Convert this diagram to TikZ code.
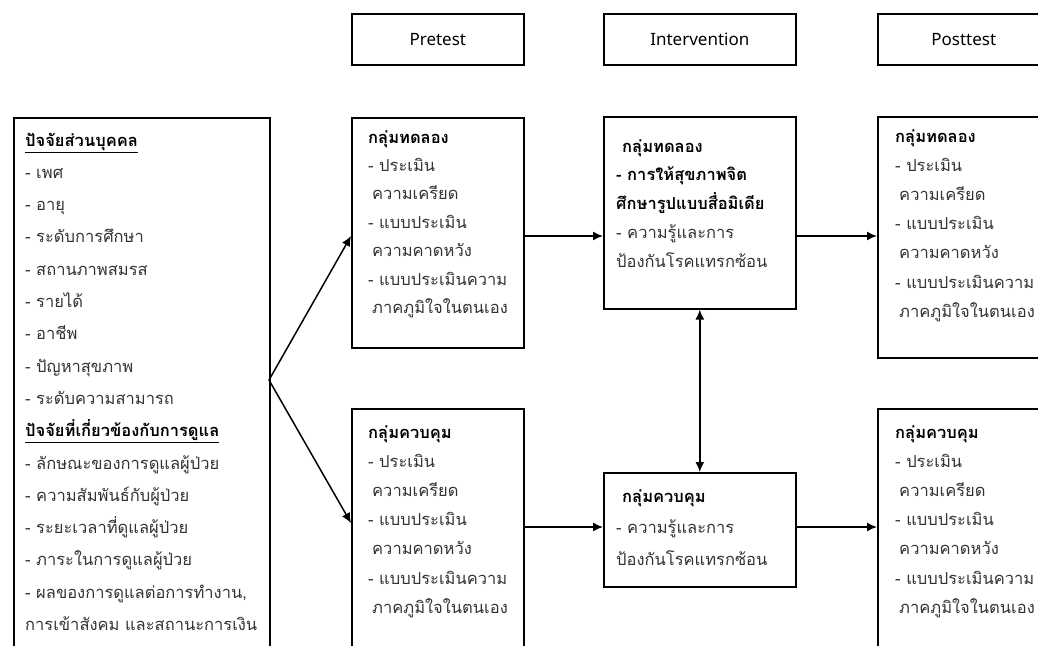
\documentclass[tikz,border=0pt]{standalone}
\usepackage{fontspec}
\newfontfamily\thaifont[Script=Thai]{Loma}
\newfontfamily\latinfont{Noto Sans}
\usetikzlibrary{arrows.meta}
\newcommand{\tblock}[2]{\parbox[t]{400pt}{\thaifont\fontsize{16.5}{#1}\selectfont\lineskiplimit=-100pt\lineskip=0pt #2}}
\newcommand{\ttl}[1]{\textbf{\textcolor{black}{#1}}}
\begin{document}
\begin{tikzpicture}[x=1pt,y=-1pt,
  box/.style={draw, line width=1.6pt, inner sep=0pt, anchor=north west},
  hdr/.style={box, font=\latinfont\fontsize{17}{20}\selectfont},
  arr/.style={line width=1.5pt, -{Latex[length=10pt,width=9pt]}},
  dblarr/.style={line width=1.5pt, {Latex[length=10pt,width=9pt]}-{Latex[length=10pt,width=9pt]}},
  txt/.style={anchor=base west, inner sep=0pt, text=black!80}]
\useasboundingbox (0,0) rectangle (1038,645);
\clip (0,0) rectangle (1038,645);
% headers
\node[hdr, minimum width=172pt, minimum height=51pt] (h1) at (351,13) {Pretest};
\node[hdr, minimum width=192pt, minimum height=51pt] (h2) at (603,13) {Intervention};
\node[hdr, minimum width=172pt, minimum height=51pt] (h3) at (877,13) {Posttest};
% boxes
\node[box, minimum width=256pt, minimum height=600pt] (lb) at (13,117) {};
\node[box, minimum width=172pt, minimum height=230pt] (pe) at (351,117) {};
\node[box, minimum width=172pt, minimum height=300pt] (pc) at (351,408) {};
\node[box, minimum width=192pt, minimum height=192pt] (ie) at (603,116) {};
\node[box, minimum width=192pt, minimum height=114pt] (ic) at (603,472) {};
\node[box, minimum width=172pt, minimum height=241pt] (qe) at (877,116) {};
\node[box, minimum width=172pt, minimum height=300pt] (qc) at (877,408) {};
% texts
\node[txt] (lbt) at (25,146) {\tblock{32.3pt}{%
\ttl{\underline{ปัจจัยส่วนบุคคล}}\\
- เพศ\\
- อายุ\\
- ระดับการศึกษา\\
- สถานภาพสมรส\\
- รายได้\\
- อาชีพ\\
- ปัญหาสุขภาพ\\
- ระดับความสามารถ\\
\ttl{\underline{ปัจจัยที่เกี่ยวข้องกับการดูแล}}\\
- ลักษณะของการดูแลผู้ป่วย\\
- ความสัมพันธ์กับผู้ป่วย\\
- ระยะเวลาที่ดูแลผู้ป่วย\\
- ภาระในการดูแลผู้ป่วย\\
- ผลของการดูแลต่อการทำงาน,\\
การเข้าสังคม และสถานะการเงิน}};
\node[txt] (pet) at (368,143) {\tblock{28.4pt}{%
\ttl{กลุ่มทดลอง}\\
- ประเมิน\\
\hspace*{4pt}ความเครียด\\
- แบบประเมิน\\
\hspace*{4pt}ความคาดหวัง\\
- แบบประเมินความ\\
\hspace*{4pt}ภาคภูมิใจในตนเอง}};
\node[txt] (pct) at (368,438) {\tblock{29.2pt}{%
\ttl{กลุ่มควบคุม}\\
- ประเมิน\\
\hspace*{4pt}ความเครียด\\
- แบบประเมิน\\
\hspace*{4pt}ความคาดหวัง\\
- แบบประเมินความ\\
\hspace*{4pt}ภาคภูมิใจในตนเอง}};
\node[txt] (iet) at (616,152) {\tblock{28.8pt}{%
\hspace*{6pt}\ttl{กลุ่มทดลอง}\\
\ttl{- การให้สุขภาพจิต}\\
\ttl{ศึกษารูปแบบสื่อมิเดีย}\\
- ความรู้และการ\\
ป้องกันโรคแทรกซ้อน}};
\node[txt] (ict) at (616,502) {\tblock{31.5pt}{%
\hspace*{6pt}\ttl{กลุ่มควบคุม}\\
- ความรู้และการ\\
ป้องกันโรคแทรกซ้อน}};
\node[txt] (qet) at (895,142) {\tblock{29.2pt}{%
\ttl{กลุ่มทดลอง}\\
- ประเมิน\\
\hspace*{4pt}ความเครียด\\
- แบบประเมิน\\
\hspace*{4pt}ความคาดหวัง\\
- แบบประเมินความ\\
\hspace*{4pt}ภาคภูมิใจในตนเอง}};
\node[txt] (qct) at (895,438) {\tblock{29.2pt}{%
\ttl{กลุ่มควบคุม}\\
- ประเมิน\\
\hspace*{4pt}ความเครียด\\
- แบบประเมิน\\
\hspace*{4pt}ความคาดหวัง\\
- แบบประเมินความ\\
\hspace*{4pt}ภาคภูมิใจในตนเอง}};
% connectors
\coordinate (fork) at (269,380);
\coordinate (r1) at (0,236);
\coordinate (r2) at (0,527);
\coordinate (r3) at (0,523);
\draw[arr] (fork) -- (pe.west |- r1);
\draw[arr] (fork) -- (pc.west |- r3);
\draw[arr] (pe.east |- r1) -- (ie.west |- r1);
\draw[arr] (ie.east |- r1) -- (qe.west |- r1);
\draw[arr] (pc.east |- r2) -- (ic.west |- r2);
\draw[arr] (ic.east |- r2) -- (qc.west |- r2);
\draw[dblarr] (ie.south) -- (ic.north);
\end{tikzpicture}
\end{document}
